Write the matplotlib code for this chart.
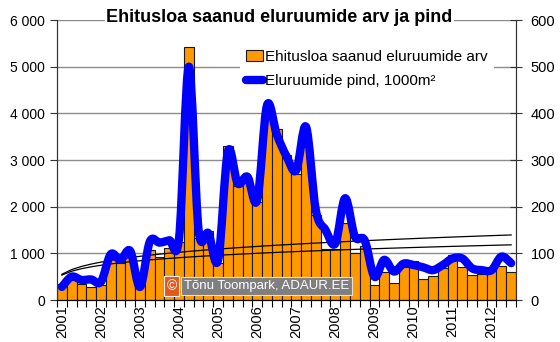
import numpy as np
import matplotlib
matplotlib.use("Agg")
import matplotlib.pyplot as plt
from matplotlib.path import Path
from matplotlib.patches import PathPatch, Patch
from matplotlib.lines import Line2D
from matplotlib.ticker import FuncFormatter, MultipleLocator

plt.rcParams['font.family'] = ['Liberation Sans', 'DejaVu Sans']

# quarterly data, 2001 Q1 .. 2012 Q3
years = list(range(2001, 2013))
dwellings = [343, 430, 343, 271,
             320, 871, 785, 942,
             330, 1070, 920, 1110,
             1240, 5420, 1320, 1480,
             800, 3305, 2440, 2620,
             2100, 3900, 3675, 3100,
             2710, 3280, 1820, 1100,
             1090, 1650, 1010, 1160,
             320, 600, 360, 700,
             835, 460, 514, 690,
             970, 714, 530, 560,
             620, 728, 593]
area = [28, 50, 43, 44,
        39, 98, 86, 105,
        28, 125, 123, 128,
        133, 500, 150, 143,
        86, 318, 250, 264,
        214, 417, 355, 308,
        278, 371, 193, 150,
        121, 218, 136, 128,
        50, 86, 61, 78,
        75, 70, 64, 75,
        89, 89, 68, 64,
        64, 93, 79]

label_bars = "Ehitusloa saanud eluruumide arv"
label_line = "Eluruumide pind, 1000m²"
title = "Ehitusloa saanud eluruumide arv ja pind"


def smooth_path(x, y):
    # cubic bezier through all points (Catmull-Rom style tangents)
    n = len(x)
    verts = [(x[0], y[0])]
    codes = [Path.MOVETO]
    for i in range(n - 1):
        xp, yp = (x[i - 1], y[i - 1]) if i > 0 else (x[i], y[i])
        xn, yn = (x[i + 2], y[i + 2]) if i + 2 < n else (x[i + 1], y[i + 1])
        c1 = (x[i] + (x[i + 1] - xp) / 6, y[i] + (y[i + 1] - yp) / 6)
        c2 = (x[i + 1] - (xn - x[i]) / 6, y[i + 1] - (yn - y[i]) / 6)
        verts += [c1, c2, (x[i + 1], y[i + 1])]
        codes += [Path.CURVE4] * 3
    return Path(verts, codes)


def power_trend(y):
    # y = a * t^b fitted in log-log space
    t = np.arange(1, len(y) + 1)
    b, loga = np.polyfit(np.log(t), np.log(y), 1)
    return np.exp(loga) * t ** b


n = len(dwellings)
idx = np.arange(n)

fig = plt.figure(figsize=(5.6, 3.42), dpi=100)
ax = fig.add_axes([57 / 560, 1 - 300 / 342, (516 - 57) / 560, 280 / 342])
ax2 = ax.twinx()

ax.bar(idx, dwellings, width=1.0, color='#FF9900', edgecolor='#1a1a1a',
       linewidth=0.8, zorder=2)

# trend lines
ax.plot(idx, power_trend(dwellings), color='black', lw=0.9, zorder=3)
ax2.plot(idx, power_trend(area), color='black', lw=0.9, zorder=1)

ax2.add_patch(PathPatch(smooth_path(idx, area), fill=False, edgecolor='#0000FF',
                        lw=6, capstyle='round', joinstyle='round', zorder=2))

ax.set_xlim(-0.5, n - 0.5)
ax.set_ylim(0, 6000)
ax2.set_ylim(0, 600)

ax.yaxis.set_major_locator(MultipleLocator(1000))
ax.yaxis.set_major_formatter(FuncFormatter(lambda v, p: f"{v:,.0f}".replace(',', ' ')))
ax2.yaxis.set_major_locator(MultipleLocator(100))
ax.grid(axis='y', color='#8c8c8c', lw=1, zorder=0)
ax.set_axisbelow(True)

ax.set_xticks(idx[::4])
ax.set_xticklabels([str(y) for y in years], rotation=90)
ax.set_xticks(np.arange(-0.5, n, 1), minor=True)
ax.tick_params(axis='x', which='major', length=0, pad=4, labelsize=10.5)
ax.tick_params(axis='x', which='minor', length=5, width=0.8, color='black')
ax.tick_params(axis='y', length=5, width=0.8, labelsize=10, color='#333333')
ax2.tick_params(axis='y', direction='inout', length=9, width=0.8,
                labelsize=10.5, color='#333333', pad=6)

for a in (ax, ax2):
    a.spines['top'].set_visible(False)
    a.spines['left'].set_color('#333333')
    a.spines['right'].set_color('#333333')
    a.spines['bottom'].set_color('black')

handles = [Patch(facecolor='#FF9900', edgecolor='#1a1a1a', lw=0.8),
           Line2D([], [], color='#0000FF', lw=6, solid_capstyle='round')]
leg = ax2.legend(handles, [label_bars, label_line], loc='upper left',
                 bbox_to_anchor=(232 / 560, 1 - 36 / 342),
                 bbox_transform=fig.transFigure, fontsize=11,
                 frameon=True, fancybox=False, framealpha=1, borderpad=0.4,
                 handlelength=1.15, handletextpad=0.1, labelspacing=0.7)
leg.get_frame().set_edgecolor('none')
leg.set_zorder(5)

fig.text(0.499, 1 - 17 / 342, title, ha='center', va='center',
         fontsize=13, fontweight='bold',
         bbox=dict(facecolor='white', edgecolor='none', pad=1))

# copyright badge
fig.text(171.5 / 560, 1 - 286 / 342, "©", ha='center', va='center',
         fontsize=10, color='white',
         bbox=dict(facecolor='#E2571E', edgecolor='#f0f0f0', lw=0.8,
                   boxstyle='square,pad=0.2'), zorder=10)
fig.text(184 / 560, 1 - 286 / 342, "Tõnu Toompark, ADAUR.EE", ha='left',
         va='center', fontsize=9.5, color='white',
         bbox=dict(facecolor='#7f7f7f', edgecolor='#e0e0e0', lw=0.8,
                   boxstyle='square,pad=0.2'), zorder=10)

fig.savefig("out.png", dpi=100)
